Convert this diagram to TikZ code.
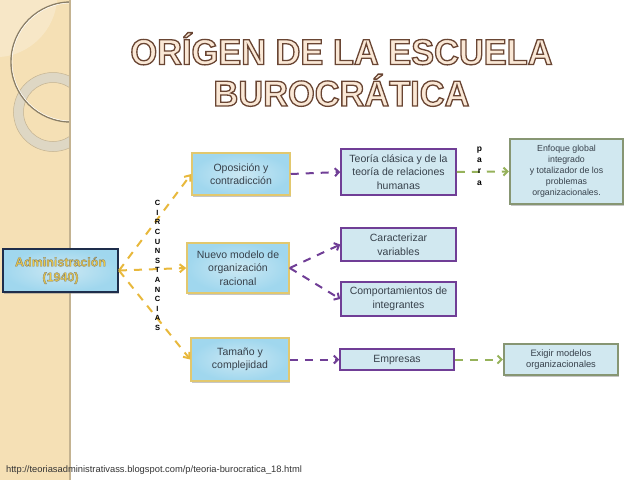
\documentclass[tikz,border=0pt]{standalone}
\usepackage{fontspec}
\setmainfont{Liberation Sans}
\newfontfamily\titlefont[FakeStretch=0.955]{Liberation Sans Bold}
\usetikzlibrary{arrows.meta, shadows, positioning}
\definecolor{sidetan}{RGB}{245, 224, 181}
\definecolor{sideedge}{RGB}{196, 179, 145}
\definecolor{ringgray}{RGB}{222, 215, 196}
\definecolor{boxgold}{RGB}{226, 200, 110}
\definecolor{boxblue}{RGB}{160, 215, 238}
\definecolor{boxpale}{RGB}{204, 232, 243}
\definecolor{palebox}{RGB}{209, 232, 240}
\definecolor{navyline}{RGB}{30, 45, 75}
\definecolor{purpleline}{RGB}{112, 62, 150}
\definecolor{greenline}{RGB}{150, 178, 90}
\definecolor{grayline}{RGB}{135, 150, 115}
\definecolor{yellowline}{RGB}{232, 184, 60}
\definecolor{inktext}{RGB}{55, 65, 75}
\definecolor{titlefill}{RGB}{250, 232, 214}
\definecolor{admintext}{RGB}{235, 200, 70}
\newcommand{\strokedtext}[3]{\special{pdf:code #1 w #2 RG 2 Tr}#3\special{pdf:code 0 Tr 1 w}}
\tikzset{
  goldbox/.style={draw=boxgold, line width=1.5pt, inner color=boxpale, outer color=boxblue, align=center, text=inktext, drop shadow={shadow xshift=0.5pt, shadow yshift=-2pt, opacity=0.45}, font=\fontsize{10.5}{13.5}\selectfont},
  purplebox/.style={draw=purpleline, line width=1.5pt, fill=palebox, align=center, text=inktext, font=\fontsize{10.5}{13.5}\selectfont},
  graybox/.style={draw=grayline, line width=2.2pt, fill=palebox, align=center, text=inktext, drop shadow={shadow xshift=1pt, shadow yshift=-2pt, opacity=0.45}},
  yellowarrow/.style={draw=yellowline, line width=2pt, dash pattern=on 8pt off 7pt, -{Straight Barb[length=5pt, width=8pt]}},
  purplearrow/.style={draw=purpleline, line width=2pt, dash pattern=on 8pt off 7pt, -{Straight Barb[length=4pt, width=8pt]}},
  greenarrow/.style={draw=greenline, line width=2pt, dash pattern=on 8pt off 7pt, -{Straight Barb[length=4pt, width=8pt]}},
  sideword/.style={align=center, inner sep=0pt, font=\bfseries\fontsize{7.5}{9.6}\selectfont}
}

\begin{document}
\begin{tikzpicture}[x=1pt, y=-1pt]
  \useasboundingbox (0,0) rectangle (639,480);
  % side band
  \fill[sidetan] (0,0) rectangle (70,480);
  \begin{scope}
    \clip (0,0) rectangle (70,480);
    \fill[white, opacity=0.25] (0,0) -- (57,0) .. controls (55,30) and (30,55) .. (0,57) -- cycle;
    \filldraw[fill=ringgray, draw=sideedge, line width=0.5pt, even odd rule] (53,112) circle (39.5) (53,112) circle (29.5);
    \draw[sideedge!70!black, line width=1.4pt] (71,62) circle (60);
    \draw[white, line width=0.5pt] (71,62) circle (59);
  \end{scope}
  \draw[sideedge, line width=2pt] (70,0) -- (70,480);

  % title
  \node (title) at (341.5,69.5) [align=center, text=titlefill, inner sep=0pt, font=\titlefont\fontsize{36}{41.5}\selectfont] {\strokedtext{1.3}{0.41 0.27 0.2}{ORÍGEN DE LA ESCUELA}\\\strokedtext{1.3}{0.41 0.27 0.2}{BUROCRÁTICA}};

  % boxes
  \node (admin) at (60.5,270.5) [draw=navyline, line width=2pt, inner color=boxpale, outer color=boxblue, minimum width=115pt, minimum height=43pt, align=center, text=admintext, drop shadow={shadow xshift=0.5pt, shadow yshift=-2pt, opacity=0.45}, font=\bfseries\fontsize{12.5}{15}\selectfont] {\strokedtext{0.35}{0.5 0.5 0.45}{Administración}\\\strokedtext{0.35}{0.5 0.5 0.45}{(1940)}};
  \node (oposicion) at (241,174) [goldbox, minimum width=98pt, minimum height=42pt] {Oposición y\\contradicción};
  \node (nuevo) at (238,268) [goldbox, minimum width=102pt, minimum height=50pt] {Nuevo modelo de\\organización\\racional};
  \node (tamano) at (240,359.5) [goldbox, minimum width=98pt, minimum height=43pt] {Tamaño y\\complejidad};
  \node (teoria) at (398.5,172) [purplebox, minimum width=115pt, minimum height=46pt] {Teoría clásica y de la\\teoría de relaciones\\humanas};
  \node (caracterizar) at (398.5,244.5) [purplebox, minimum width=115pt, minimum height=33pt] {Caracterizar\\variables};
  \node (comportamientos) at (398.5,299) [purplebox, minimum width=115pt, minimum height=34pt] {Comportamientos de\\integrantes};
  \node (empresas) at (397,359.5) [purplebox, minimum width=114pt, minimum height=21pt] {Empresas};
  \node (enfoque) at (566.5,171.5) [graybox, minimum width=113pt, minimum height=65pt, font=\fontsize{8.8}{11}\selectfont] {Enfoque global\\integrado\\y totalizador de los\\problemas\\organizacionales.};
  \node (exigir) at (561,359.5) [graybox, minimum width=114pt, minimum height=31pt, font=\fontsize{9.3}{11.5}\selectfont] {Exigir modelos\\organizacionales};

  % connectors
  \draw[yellowarrow] (admin.east) -- (oposicion.west);
  \draw[yellowarrow] (admin.east) -- (nuevo.west);
  \draw[yellowarrow] (admin.east) -- (tamano.west);
  \draw[purplearrow] (oposicion.east) -- (teoria.west);
  \draw[purplearrow] (nuevo.east) -- (caracterizar.west);
  \draw[purplearrow] (nuevo.east) -- (comportamientos.west);
  \draw[purplearrow] (tamano.east) -- (empresas.west);
  \draw[greenarrow] (teoria.east) -- (enfoque.west);
  \draw[greenarrow] (empresas.east) -- (exigir.west);

  % vertical words
  \node (circunstancias) at (157.5,265.5) [sideword] {C\\I\\R\\C\\U\\N\\S\\T\\A\\N\\C\\I\\A\\S};
  \node (para) at (479.5,166) [sideword, font=\bfseries\fontsize{8.5}{11.3}\selectfont] {p\\a\\r\\a};

  % source line
  \node (source) at (6,470) [anchor=west, inner sep=0pt, text=black!80, font=\fontsize{9.35}{11}\selectfont] {http://teoriasadministrativass.blogspot.com/p/teoria-burocratica\_18.html};
\end{tikzpicture}
\end{document}
